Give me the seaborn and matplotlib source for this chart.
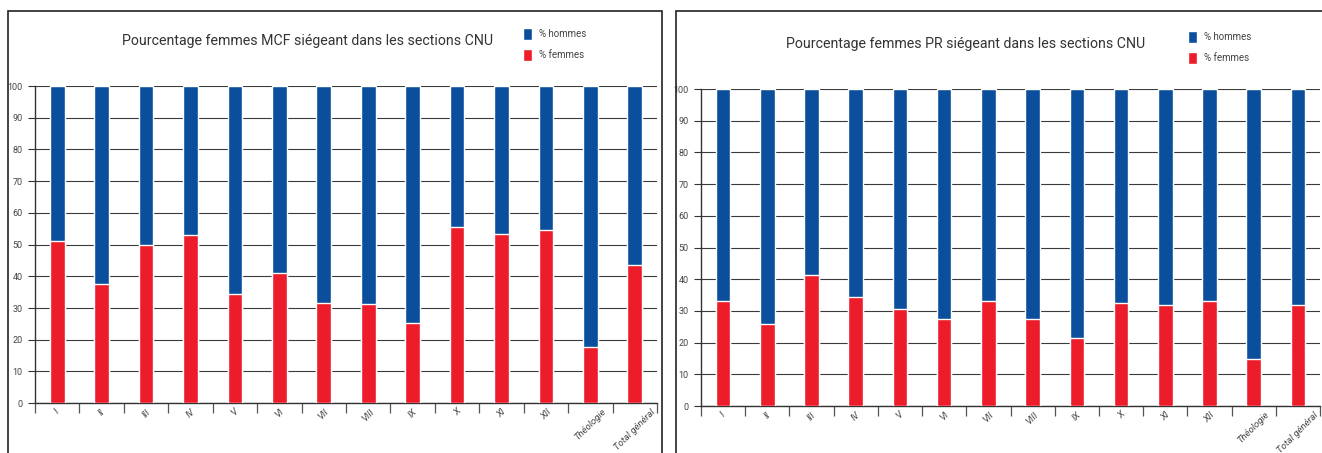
import numpy as np
import pandas as pd
import matplotlib
matplotlib.use("Agg")
import matplotlib.pyplot as plt
from matplotlib.patches import Rectangle, Patch
import seaborn as sns

# données
sections = ["I", "II", "III", "IV", "V", "VI", "VII", "VIII", "IX", "X", "XI", "XII",
            "Théologie", "Total général"]
mcf_femmes = [51.1, 37.6, 50.0, 53.0, 34.4, 41.1, 31.5, 31.2, 25.4, 55.7, 53.2, 54.6, 17.6, 43.6]
mcf_hommes = [48.9, 62.4, 50.0, 47.0, 65.6, 58.9, 68.5, 68.8, 74.6, 44.3, 46.8, 45.4, 82.4, 56.4]
pr_femmes = [33.0, 25.9, 41.4, 34.3, 30.7, 27.5, 33.3, 27.5, 21.5, 32.5, 31.8, 33.3, 14.8, 32.0]
pr_hommes = [67.0, 74.1, 58.6, 65.7, 69.3, 72.5, 66.7, 72.5, 78.5, 67.5, 68.2, 66.7, 85.2, 68.0]

titres = ["Pourcentage femmes MCF siégeant dans les sections CNU",
          "Pourcentage femmes PR siégeant dans les sections CNU"]

BLEU = "#0B4F9C"
ROUGE = "#ED1C2A"

sns.set_style("white")
plt.rcParams["font.family"] = ["Roboto", "DejaVu Sans"]

fig = plt.figure(figsize=(13.22, 4.53), dpi=100)

# cadres des deux panneaux
fig.patches.append(Rectangle((8 / 1322, -0.05), 654 / 1322, 1.05 - 11 / 453,
                             transform=fig.transFigure, fill=False, ec="#222222", lw=1.2))
fig.patches.append(Rectangle((676 / 1322, -0.05), 700 / 1322, 1.05 - 11 / 453,
                             transform=fig.transFigure, fill=False, ec="#222222", lw=1.2))

positions = [[35 / 1322, 0.11, 622 / 1322, 0.70],
             [701 / 1322, 0.1035, 619 / 1322, 0.70]]
titre_xy = [(308 / 1322, 1 - 41 / 453), (966 / 1322, 1 - 44 / 453)]
legende_xy = [(514 / 1322, 1 - 19 / 453), (1179 / 1322, 1 - 22 / 453)]

jeux = [(mcf_femmes, mcf_hommes), (pr_femmes, pr_hommes)]

for k, (femmes, hommes) in enumerate(jeux):
    ax = fig.add_axes(positions[k])
    df = pd.DataFrame({"section": sections, "femmes": femmes, "hommes": hommes})
    df["total"] = df["femmes"] + df["hommes"]

    sns.barplot(data=df, x="section", y="total", color=BLEU, width=0.33,
                saturation=1, ax=ax, zorder=3)
    sns.barplot(data=df, x="section", y="femmes", color=ROUGE, width=0.33,
                saturation=1, ax=ax, zorder=4)

    ax.set_xlim(-0.5, len(sections) - 0.5)
    ax.set_ylim(0, 100)
    ax.set_yticks(range(0, 101, 10))
    ax.set_xlabel("")
    ax.set_ylabel("")

    # grille horizontale
    ax.grid(axis="y", color="#3a3a3a", lw=0.8, zorder=0)
    ax.set_axisbelow(True)

    for s in ["top", "right"]:
        ax.spines[s].set_visible(False)
    for s in ["left", "bottom"]:
        ax.spines[s].set_color("#333333")
        ax.spines[s].set_linewidth(1.0)

    ax.tick_params(axis="y", direction="out", length=5, width=0.8, color="#333333",
                   labelsize=6.5, labelcolor="#444444", pad=4, left=True)
    ax.tick_params(axis="x", which="major", length=0, pad=3)
    ax.set_xticks(np.arange(-0.5, len(sections), 1), minor=True)
    ax.tick_params(axis="x", which="minor", direction="out", length=7, width=0.9,
                   color="#555555", bottom=True)
    ax.set_xticklabels(sections, rotation=45, ha="center",
                       fontsize=6.8, color="#444444", style="italic")

    fig.text(titre_xy[k][0], titre_xy[k][1], titres[k], ha="center", va="center",
             fontsize=10.2, color="#333333")

    poignees = [Patch(facecolor=BLEU, label="% hommes"),
                Patch(facecolor=ROUGE, label="% femmes")]
    fig.legend(handles=poignees, loc="upper left", bbox_to_anchor=legende_xy[k],
               frameon=False, fontsize=7, handlelength=0.9, handleheight=1.6,
               handletextpad=0.8, labelspacing=0.9, labelcolor="#444444")

fig.savefig("out.png", dpi=100)
